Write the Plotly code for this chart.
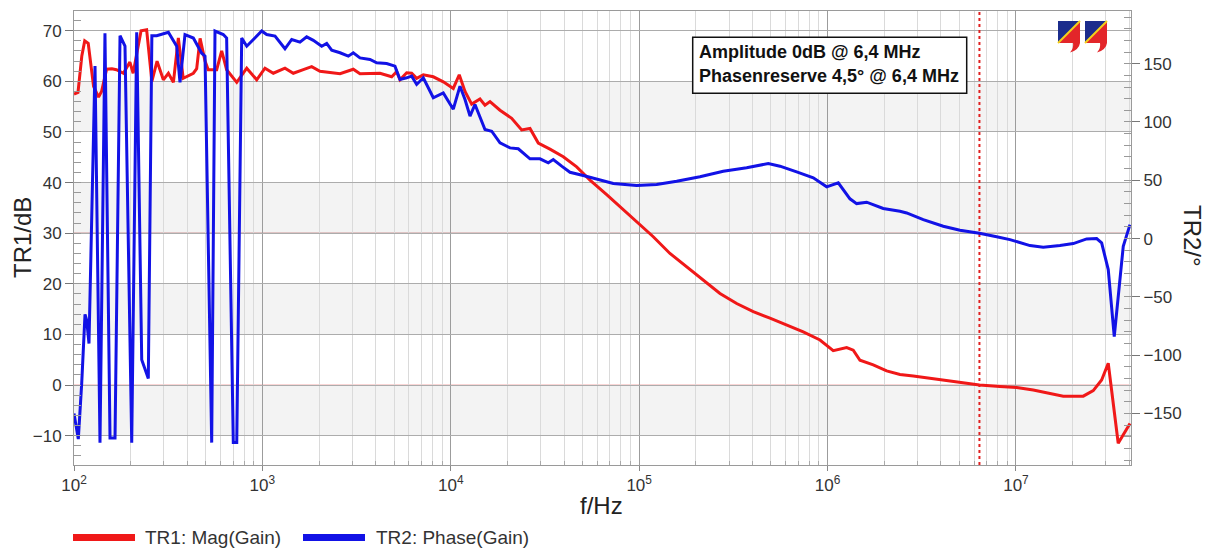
import plotly.graph_objects as go

# ---------------- data ----------------
mag_freq_hz = [100, 105, 110, 114, 119, 123, 127, 135, 140, 149, 159, 168, 183, 198, 206, 227, 243, 259,
               276, 298, 317, 337, 358, 380, 430, 448, 467, 496, 516, 572, 608, 646, 731, 826, 933, 1032,
               1143, 1318, 1459, 1649, 1827, 2022, 2583, 3038, 3296, 4210, 4857, 5162, 5375, 5832, 6200,
               6592, 7145, 8075, 9125, 10310, 11090, 11900, 12910, 14290, 15190, 16150, 18250, 21050,
               23780, 26330, 29140, 33610, 39550, 46590, 54830, 67220, 79100, 101000, 118800, 145700,
               178700, 218900, 268500, 329300, 403300, 494600, 606600, 743000, 911500, 1.072e6, 1.263e6,
               1.369e6, 1.486e6, 1.748e6, 2.059e6, 2.423e6, 2.851e6, 3.64e6, 4.844e6, 6.4e6, 8.226e6,
               1.009e7, 1.235e7, 1.515e7, 1.783e7, 2.277e7, 2.572e7, 2.85e7, 3.09e7, 3.49e7, 4.03e7]
mag_db = [57.5, 57.8, 65.0, 68.0, 67.5, 63.0, 59.0, 56.9, 58.0, 62.4, 62.5, 62.3, 61.6, 63.8, 61.6, 70.0,
          70.2, 60.0, 64.0, 60.3, 61.6, 59.8, 68.6, 60.6, 61.6, 62.5, 68.5, 64.0, 62.3, 62.3, 66.0, 62.3,
          59.8, 62.6, 60.3, 62.6, 61.6, 62.6, 61.6, 62.3, 62.9, 62.0, 61.5, 62.4, 61.5, 61.6, 60.9, 61.9,
          60.3, 61.7, 61.6, 60.6, 61.3, 60.9, 59.9, 58.6, 61.3, 58.0, 55.5, 56.5, 55.3, 56.0, 54.3, 52.7,
          50.4, 50.7, 47.8, 46.6, 45.1, 43.1, 40.5, 37.6, 35.2, 31.8, 29.3, 26.0, 23.4, 20.8, 18.1, 16.1,
          14.5, 13.2, 11.9, 10.5, 8.9, 6.8, 7.4, 6.9, 4.9, 4.0, 2.8, 2.1, 1.8, 1.3, 0.65, 0.0, -0.3, -0.5,
          -1.0, -1.6, -2.2, -2.2, -1.1, 1.0, 4.3, -11.5, -7.6]

phase_freq_hz = [100, 101.2, 105.4, 109.9, 114.4, 116.8, 120.1, 129.3, 137.4, 146, 155.3, 165.1, 175.5,
                 186.5, 202.5, 215.2, 228.8, 248, 259, 274.8, 317, 350.9, 365.3, 388.3, 430, 476.3, 496,
                 538.1, 560.3, 620, 646, 700.7, 731, 776.5, 826, 991.5, 1054, 1167, 1318, 1431, 1583,
                 1718, 1863, 2064, 2194, 2333, 2583, 2858, 3038, 3296, 3725, 4044, 4567, 5055, 5375,
                 5832, 6200, 6592, 7145, 8075, 9125, 10310, 11190, 11900, 12650, 13440, 14290, 15190,
                 16490, 18250, 20620, 22820, 26330, 29750, 32920, 35000, 38780, 42920, 50500, 59490,
                 72890, 96980, 123800, 158100, 210200, 279500, 372000, 484600, 558900, 685500, 840000,
                 989000, 1.14e6, 1.315e6, 1.427e6, 1.613e6, 1.975e6, 2.423e6, 2.629e6, 3.221e6, 4.113e6,
                 5.045e6, 6.4e6, 7.901e6, 9.294e6, 1.187e7, 1.396e7, 1.712e7, 2.015e7, 2.373e7, 2.681e7,
                 2.85e7, 3.09e7, 3.325e7, 3.49e7, 3.712e7, 4.03e7]
phase_deg = [-150, -155, -172, -124, -65, -70, -90, 148, -175, 176, -171, -171, 174,
             165, -175, 177, -104, -120, 174, 174, 177, 165, 134, 175, 172, 159, 156.5,
             -175, 178, 175, 172, -175, -175, 172, 165, 178, 175, 173.7, 162.8, 170.8, 168.5,
             173, 170, 165, 167.4, 161.6, 159.4, 156.5, 159.4, 155, 153.6, 150.8, 150.2, 147.9, 136.5,
             137.9, 139.3, 132.2, 137.9, 120.8, 125, 111, 130.7, 119.3, 105, 115, 103.6, 93.6,
             92.1, 82.1, 77.8, 77, 68.4, 68.4, 65, 67.8, 62.1, 56.9, 54.1, 51.2,
             47.2, 45.5, 46.4, 49.2, 53, 57.8, 60.7, 64.4, 62.1, 57.2, 52.1,
             44.4, 47.8, 34.1, 30, 31.2, 25.8, 23.4, 22, 16.3, 10.6,
             7.1, 4.5, 1.5, -0.9, -6, -7.4, -6, -4.3, -0.3, 0,
             -3.7, -26.6, -84, -52, -6.6, 12]
assert len(mag_freq_hz) == len(mag_db)
assert len(phase_freq_hz) == len(phase_deg)

cursor_freq_hz = 6.4e6
readout_lines = ["Amplitude 0dB @ 6,4 MHz", "Phasenreserve 4,5° @ 6,4 MHz"]
series_names = ["TR1: Mag(Gain)", "TR2: Phase(Gain)"]

x_tick_vals = [1e2, 1e3, 1e4, 1e5, 1e6, 1e7]
x_tick_text = ["10<sup>2</sup>", "10<sup>3</sup>", "10<sup>4</sup>", "10<sup>5</sup>",
               "10<sup>6</sup>", "10<sup>7</sup>"]
y1_tick_vals = [-10, 0, 10, 20, 30, 40, 50, 60, 70]
y2_tick_vals = [-150, -100, -50, 0, 50, 100, 150]
y1_range = [-15.8, 73.9]
y2_range = [-194.2, 195.2]
x_range_log = [2, 7.6107]
shaded_bands_db = [(-10, 0), (10, 20), (30, 40), (50, 60)]

# ---------------- styling ----------------
RED = "#f01818"
BLUE = "#1212e6"
FONT = "Liberation Sans"
PAGE_OFFSET = 8                      # default body margin of the html page
W, H = 1211 - PAGE_OFFSET, 550 - PAGE_OFFSET
L, R, T, B = 74, 1131, 11, 465       # plot area in reference-window pixels


def px(x):
    return (x - L) / (R - L)


def py(y):
    return (B - y) / (B - T)


x_minor = [m * 10 ** e for e in range(2, 8) for m in range(2, 10)]
y1_minor = list(range(-14, 74, 2))
y2_minor = list(range(-190, 195, 10))

fig = go.Figure()
fig.add_trace(go.Scatter(x=[cursor_freq_hz, cursor_freq_hz], y=y1_range, mode="lines",
                         line=dict(color="#e02020", width=2, dash="dot"), showlegend=False,
                         hoverinfo="skip", yaxis="y"))
fig.add_trace(go.Scatter(x=mag_freq_hz, y=mag_db, mode="lines", name=series_names[0],
                         line=dict(color=RED, width=3), showlegend=False, yaxis="y"))
fig.add_trace(go.Scatter(x=phase_freq_hz, y=phase_deg, mode="lines", name=series_names[1],
                         line=dict(color=BLUE, width=3), showlegend=False, yaxis="y2"))

shapes = []
for lo, hi in shaded_bands_db:
    shapes.append(dict(type="rect", xref="paper", yref="y", x0=0, x1=1, y0=lo, y1=hi,
                       fillcolor="#f3f3f3", line=dict(width=0), layer="below"))
shapes.append(dict(type="line", xref="paper", yref="y", x0=0, x1=1, y0=30, y1=30,
                   line=dict(color="#b05a5a", width=1), layer="between"))
shapes.append(dict(type="line", xref="paper", yref="y", x0=0, x1=1, y0=0, y1=0,
                   line=dict(color="#f2a8a8", width=1), layer="between"))

# read-out box
shapes.append(dict(type="rect", xref="paper", yref="paper", x0=px(692.7), x1=px(966.7),
                   y0=py(93.3), y1=py(37.3), fillcolor="white", line=dict(color="#111", width=1.5),
                   layer="above"))


# logo (two squares)
def logo(x0, y0, s=22):
    x1, y1 = x0 + s, y0 + s
    out = []
    out.append(dict(type="path", xref="paper", yref="paper",
                    path=f"M {px(x0)},{py(y0)} L {px(x1)},{py(y0)} L {px(x0)},{py(y1)} Z",
                    fillcolor="#1b2c8c", line=dict(width=0), layer="above"))
    out.append(dict(type="path", xref="paper", yref="paper",
                    path=f"M {px(x1)},{py(y0)} L {px(x1)},{py(y1)} L {px(x0)},{py(y1)} Z",
                    fillcolor="#e3262a", line=dict(width=0), layer="above"))
    out.append(dict(type="path", xref="paper", yref="paper",
                    path=(f"M {px(x1-7)},{py(y1)} L {px(x1)},{py(y1)} "
                          f"Q {px(x1-1)},{py(y1+7)} {px(x1-10)},{py(y1+9.5)} "
                          f"Q {px(x1-6)},{py(y1+5)} {px(x1-7)},{py(y1)} Z"),
                    fillcolor="#e3262a", line=dict(width=0), layer="above"))
    out.append(dict(type="line", xref="paper", yref="paper", x0=px(x0), y0=py(y1),
                    x1=px(x1), y1=py(y0), line=dict(color="#f3d21a", width=2), layer="above"))
    return out


shapes += logo(1058, 21)
shapes += logo(1085, 21)

# legend swatches
shapes.append(dict(type="rect", xref="paper", yref="paper", x0=px(73), x1=px(135),
                   y0=py(541), y1=py(534), fillcolor=RED, line=dict(width=0)))
shapes.append(dict(type="rect", xref="paper", yref="paper", x0=px(303), x1=px(365),
                   y0=py(541), y1=py(534), fillcolor=BLUE, line=dict(width=0)))

annotations = [
    dict(text=f"<b>{readout_lines[0]}</b>", xref="paper", yref="paper", x=px(697), y=py(52.5),
         xanchor="left", yanchor="middle", showarrow=False, font=dict(family=FONT, size=18, color="#111")),
    dict(text=f"<b>{readout_lines[1]}</b>", xref="paper", yref="paper", x=px(697), y=py(75.5),
         xanchor="left", yanchor="middle", showarrow=False, font=dict(family=FONT, size=18, color="#111")),
    dict(text="TR1/dB", xref="paper", yref="paper", x=px(22), y=py(237), textangle=-90,
         xanchor="center", yanchor="middle", showarrow=False, font=dict(family=FONT, size=24, color="#222")),
    dict(text="TR2/°", xref="paper", yref="paper", x=px(1192), y=py(236), textangle=90,
         xanchor="center", yanchor="middle", showarrow=False, font=dict(family=FONT, size=24, color="#222")),
    dict(text="f/Hz", xref="paper", yref="paper", x=px(601), y=py(505),
         xanchor="center", yanchor="middle", showarrow=False, font=dict(family=FONT, size=24, color="#222")),
    dict(text=series_names[0], xref="paper", yref="paper", x=px(143), y=py(537.5),
         xanchor="left", yanchor="middle", showarrow=False, font=dict(family=FONT, size=19, color="#333")),
    dict(text=series_names[1], xref="paper", yref="paper", x=px(374), y=py(537.5),
         xanchor="left", yanchor="middle", showarrow=False, font=dict(family=FONT, size=19, color="#333")),
]

tickfont = dict(family=FONT, size=17, color="#333")
fig.update_layout(
    width=W, height=H, autosize=False,
    margin=dict(l=L - PAGE_OFFSET, r=1211 - R, t=T - PAGE_OFFSET, b=550 - B, pad=0),
    paper_bgcolor="white", plot_bgcolor="white",
    showlegend=False,
    shapes=shapes, annotations=annotations,
    xaxis=dict(type="log", range=x_range_log, tickmode="array", tickvals=x_tick_vals,
               ticktext=x_tick_text, tickfont=tickfont, ticks="outside", ticklen=5,
               tickcolor="#888", showgrid=True, gridcolor="#9c9c9c", gridwidth=1,
               showline=True, linecolor="#9a9a9a", linewidth=1, mirror=True, zeroline=False,
               minor=dict(tickmode="array", tickvals=x_minor, showgrid=True, gridcolor="#dadada",
                          gridwidth=1, ticks="inside", ticklen=4, tickcolor="#aaa")),
    yaxis=dict(range=y1_range, tickmode="array", tickvals=y1_tick_vals, tickfont=tickfont,
               ticks="outside", ticklen=8, tickcolor="#777", showgrid=True, gridcolor="#acacac",
               gridwidth=1, zeroline=False, showline=True, linecolor="#9a9a9a", linewidth=1,
               minor=dict(tickmode="array", tickvals=y1_minor, ticks="inside", ticklen=7,
                          tickcolor="#999", showgrid=False)),
    yaxis2=dict(range=y2_range, overlaying="y", side="right", tickmode="array",
                tickvals=y2_tick_vals, tickfont=tickfont, ticks="outside", ticklen=8,
                tickcolor="#777", showgrid=False, zeroline=False, showline=True,
                linecolor="#9a9a9a", linewidth=1,
                minor=dict(tickmode="array", tickvals=y2_minor, ticks="inside", ticklen=7,
                           tickcolor="#999", showgrid=False)),
)

fig.write_html("out.html")
